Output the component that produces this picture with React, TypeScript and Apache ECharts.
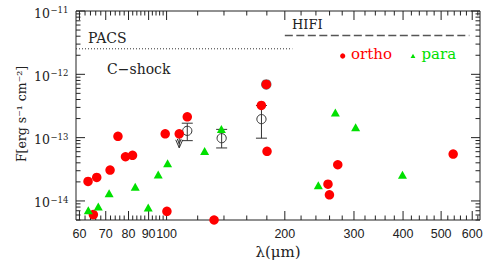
import React, { useEffect, useRef } from "react";
import * as echarts from "echarts";

const X_MIN = 58.8;
const X_MAX = 628;
const Y_MIN = 5e-15;
const Y_MAX = 1e-11;

// ortho-H2O lines (red circles)
const orthoLambda = [63.1, 65.1, 66.4, 71.8, 75.2, 78.6, 81.9, 99.2, 100.2, 107.7, 112.9, 132.1, 174.3, 179.4, 180.2, 257.6, 259.8, 272.8, 536.6];
const orthoFlux = [2.03e-14, 6.1e-15, 2.35e-14, 3.07e-14, 1.05e-13, 4.99e-14, 5.26e-14, 1.15e-13, 6.87e-15, 1.15e-13, 2.13e-13, 5.0e-15, 3.22e-13, 6.93e-13, 6.08e-14, 1.84e-14, 1.25e-14, 3.73e-14, 5.51e-14];

// para-H2O lines (green triangles)
const paraLambda = [63.2, 67.0, 71.4, 83.2, 89.8, 95.2, 100.6, 125.0, 137.9, 243.4, 268.9, 302.9, 398.6];
const paraFlux = [7.1e-15, 8.15e-15, 1.32e-14, 1.67e-14, 7.86e-15, 2.62e-14, 3.93e-14, 6.15e-14, 1.37e-13, 1.77e-14, 2.49e-13, 1.46e-13, 2.59e-14];

// open circles with error bars
const errLambda = [112.9, 138.1, 174.4];
const errFlux = [1.28e-13, 9.8e-14, 1.96e-13];
const errLow = [8.96e-14, 6.87e-14, 9.8e-14];
const errHigh = [1.69e-13, 1.35e-13, 3.22e-13];

// outlined point
const outlinedLambda = [179.4];
const outlinedFlux = [6.93e-13];

// upper limit arrow
const limitLambda = [107.7];
const limitFrom = [1.15e-13];
const limitTo = [6.9e-14];

// instrument limits
const pacsLambda = [58.8, 209];
const pacsFlux = 2.53e-12;
const hifiLambda = [200, 590];
const hifiFlux = 4.11e-12;

// axis ticks
const xTickLabels = [60, 70, 80, 90, 100, 200, 300, 400, 500, 600];
const xMinorTicks = [62, 64, 66, 68, 72, 74, 76, 78, 82, 84, 86, 88, 92, 94, 96, 98, 120, 140, 160, 180, 220, 240, 260, 280, 320, 340, 360, 380, 420, 440, 460, 480, 520, 540, 560, 580, 620];
const yTickExponents = [-14, -13, -12, -11];
const yMinorMantissas = [2, 3, 4, 5, 6, 7, 8, 9];

const RED = "#ff0000";
const GREEN = "#00e000";
const INK = "#222222";
const SERIF = '"DejaVu Serif", serif';
const SANS = '"Liberation Sans", sans-serif';

export default function App() {
  const ref = useRef<HTMLDivElement>(null);

  useEffect(() => {
    if (!ref.current) return;
    const chart = echarts.init(ref.current, undefined, { renderer: "svg" });

    const xTickData: number[][] = [
      ...xTickLabels.map((v) => [v, Y_MIN, 1]),
      ...xMinorTicks.map((v) => [v, Y_MIN, 0]),
    ];
    const yTickData: number[][] = [];
    yTickExponents.forEach((e) => yTickData.push([X_MIN, Math.pow(10, e), 1, e]));
    for (let e = -15; e <= -12; e++) {
      yMinorMantissas.forEach((m) => {
        const v = m * Math.pow(10, e);
        if (v >= Y_MIN * 0.999 && v <= Y_MAX) yTickData.push([X_MIN, v, 0, 0]);
      });
    }

    const option: any = {
      animation: false,
      grid: {
        left: 76,
        right: 11,
        top: 11,
        bottom: 48,
        show: true,
        borderColor: INK,
        borderWidth: 1,
        backgroundColor: "transparent",
      },
      xAxis: {
        type: "log",
        logBase: 10,
        min: X_MIN,
        max: X_MAX,
        axisLine: { show: false },
        axisTick: { show: false },
        axisLabel: { show: false },
        splitLine: { show: false },
      },
      yAxis: {
        type: "log",
        logBase: 10,
        min: Y_MIN,
        max: Y_MAX,
        axisLine: { show: false },
        axisTick: { show: false },
        axisLabel: { show: false },
        splitLine: { show: false },
      },
      graphic: [
        { type: "text", left: 88, top: 31, silent: true, style: { text: "PACS", fill: INK, font: `14px ${SERIF}` } },
        { type: "text", left: 107, top: 62, silent: true, style: { text: "C\u2212shock", fill: INK, font: `14px ${SERIF}` } },
        { type: "text", left: 292, top: 18, silent: true, style: { text: "HIFI", fill: INK, font: `13px ${SERIF}` } },
        { type: "circle", silent: true, shape: { cx: 342.7, cy: 56, r: 2.6 }, style: { fill: RED } },
        { type: "text", left: 351, top: 46, silent: true, style: { text: "ortho", fill: RED, font: `15px ${SERIF}` } },
        { type: "polygon", silent: true, shape: { points: [[410.6, 58], [415.4, 58], [413, 53.8]] }, style: { fill: GREEN } },
        { type: "text", left: 421.5, top: 46, silent: true, style: { text: "para", fill: GREEN, font: `15px ${SERIF}` } },
        {
          type: "text",
          x: 278,
          y: 252,
          silent: true,
          style: { text: "\u03bb(\u03bcm)", fill: INK, font: `15px ${SERIF}`, align: "center", verticalAlign: "middle" },
        },
        {
          type: "text",
          x: 21,
          y: 114,
          rotation: Math.PI / 2,
          silent: true,
          style: { text: "F[erg s\u207b\u00b9 cm\u207b\u00b2]", fill: INK, font: `12.5px ${SERIF}`, align: "center", verticalAlign: "middle" },
        },
      ],
      series: [
        {
          type: "custom",
          silent: true,
          clip: false,
          z: 1,
          data: xTickData,
          encode: { x: 0, y: 1 },
          renderItem: (_p: any, api: any) => {
            const v = api.value(0);
            const major = api.value(2) === 1;
            const b = api.coord([v, Y_MIN]);
            const t = api.coord([v, Y_MAX]);
            const len = major ? 9 : 4.5;
            const children: any[] = [
              { type: "line", shape: { x1: b[0], y1: b[1], x2: b[0], y2: b[1] - len }, style: { stroke: INK, lineWidth: 1 } },
              { type: "line", shape: { x1: t[0], y1: t[1], x2: t[0], y2: t[1] + len }, style: { stroke: INK, lineWidth: 1 } },
            ];
            if (major) {
              children.push({
                type: "text",
                x: b[0],
                y: b[1] + 14,
                style: { text: String(v), fill: INK, font: `12.5px ${SANS}`, align: "center", verticalAlign: "middle" },
              });
            }
            return { type: "group", children };
          },
        },
        {
          type: "custom",
          silent: true,
          clip: false,
          z: 1,
          data: yTickData,
          encode: { x: 0, y: 1 },
          renderItem: (_p: any, api: any) => {
            const v = api.value(1);
            const major = api.value(2) === 1;
            const l = api.coord([X_MIN, v]);
            const r = api.coord([X_MAX, v]);
            const len = major ? 9 : 4.5;
            const children: any[] = [
              { type: "line", shape: { x1: l[0], y1: l[1], x2: l[0] + len, y2: l[1] }, style: { stroke: INK, lineWidth: 1 } },
              { type: "line", shape: { x1: r[0], y1: r[1], x2: r[0] - len, y2: r[1] }, style: { stroke: INK, lineWidth: 1 } },
            ];
            if (major) {
              const e = api.value(3);
              children.push({
                type: "text",
                x: l[0] - 26,
                y: l[1] + 2,
                style: { text: "10", fill: INK, font: `12.5px ${SERIF}`, align: "right", verticalAlign: "middle" },
              });
              children.push({
                type: "text",
                x: l[0] - 25.5,
                y: l[1] - 1,
                style: { text: "\u2212" + String(-e), fill: INK, font: `8.5px ${SERIF}`, align: "left", verticalAlign: "middle" },
              });
            }
            return { type: "group", children };
          },
        },
        {
          type: "line",
          silent: true,
          z: 1,
          symbol: "none",
          data: pacsLambda.map((l) => [l, pacsFlux]),
          lineStyle: { color: "#333", width: 1, type: [1, 2] },
        },
        {
          type: "line",
          silent: true,
          z: 1,
          symbol: "none",
          data: hifiLambda.map((l) => [l, hifiFlux]),
          lineStyle: { color: "#555", width: 1.5, type: [8, 3.5] },
        },
        {
          type: "custom",
          silent: true,
          clip: false,
          z: 1,
          data: errLambda.map((l, i) => [l, errFlux[i], errLow[i], errHigh[i]]),
          encode: { x: 0, y: 1 },
          renderItem: (_p: any, api: any) => {
            const l = api.value(0);
            const c = api.coord([l, api.value(1)]);
            const lo = api.coord([l, api.value(2)]);
            const hi = api.coord([l, api.value(3)]);
            const w = 5.5;
            const st = { stroke: "#333", lineWidth: 1 };
            return {
              type: "group",
              children: [
                { type: "line", shape: { x1: lo[0], y1: lo[1], x2: hi[0], y2: hi[1] }, style: st },
                { type: "line", shape: { x1: lo[0] - w, y1: lo[1], x2: lo[0] + w, y2: lo[1] }, style: st },
                { type: "line", shape: { x1: hi[0] - w, y1: hi[1], x2: hi[0] + w, y2: hi[1] }, style: st },
                { type: "circle", shape: { cx: c[0], cy: c[1], r: 4.6 }, style: { stroke: "#333", lineWidth: 1, fill: "none" } },
              ],
            };
          },
        },
        {
          type: "custom",
          silent: true,
          clip: false,
          z: 1,
          data: limitLambda.map((l, i) => [l, limitFrom[i], limitTo[i]]),
          encode: { x: 0, y: 1 },
          renderItem: (_p: any, api: any) => {
            const l = api.value(0);
            const a = api.coord([l, api.value(1)]);
            const b = api.coord([l, api.value(2)]);
            const st = { stroke: "#333", lineWidth: 1, fill: "none" };
            return {
              type: "group",
              children: [
                { type: "line", shape: { x1: a[0], y1: a[1], x2: b[0], y2: b[1] }, style: st },
                { type: "polyline", shape: { points: [[b[0] - 3.5, b[1] - 8], [b[0], b[1]], [b[0] + 3.5, b[1] - 8]] }, style: st },
                { type: "polyline", shape: { points: [[b[0] - 2, b[1] - 9], [b[0], b[1] - 4], [b[0] + 2, b[1] - 9]] }, style: st },
              ],
            };
          },
        },
        {
          type: "scatter",
          silent: true,
          clip: false,
          z: 3,
          symbol: "circle",
          symbolSize: 10.5,
          itemStyle: { color: "#777", opacity: 1 },
          data: outlinedLambda.map((l, i) => [l, outlinedFlux[i]]),
        },
        {
          type: "scatter",
          silent: true,
          clip: false,
          z: 4,
          symbol: "circle",
          symbolSize: 9.5,
          itemStyle: { color: RED, opacity: 1 },
          data: orthoLambda.map((l, i) => [l, orthoFlux[i]]),
        },
        {
          type: "scatter",
          silent: true,
          clip: false,
          z: 5,
          symbol: "triangle",
          symbolSize: [9, 8],
          itemStyle: { color: GREEN, opacity: 1 },
          data: paraLambda.map((l, i) => [l, paraFlux[i]]),
        },
      ],
    };

    chart.setOption(option);
    return () => chart.dispose();
  }, []);

  return (
    <div
      ref={ref}
      style={{ position: "fixed", left: 0, top: 0, width: 491, height: 268, background: "#ffffff" }}
    />
  );
}
